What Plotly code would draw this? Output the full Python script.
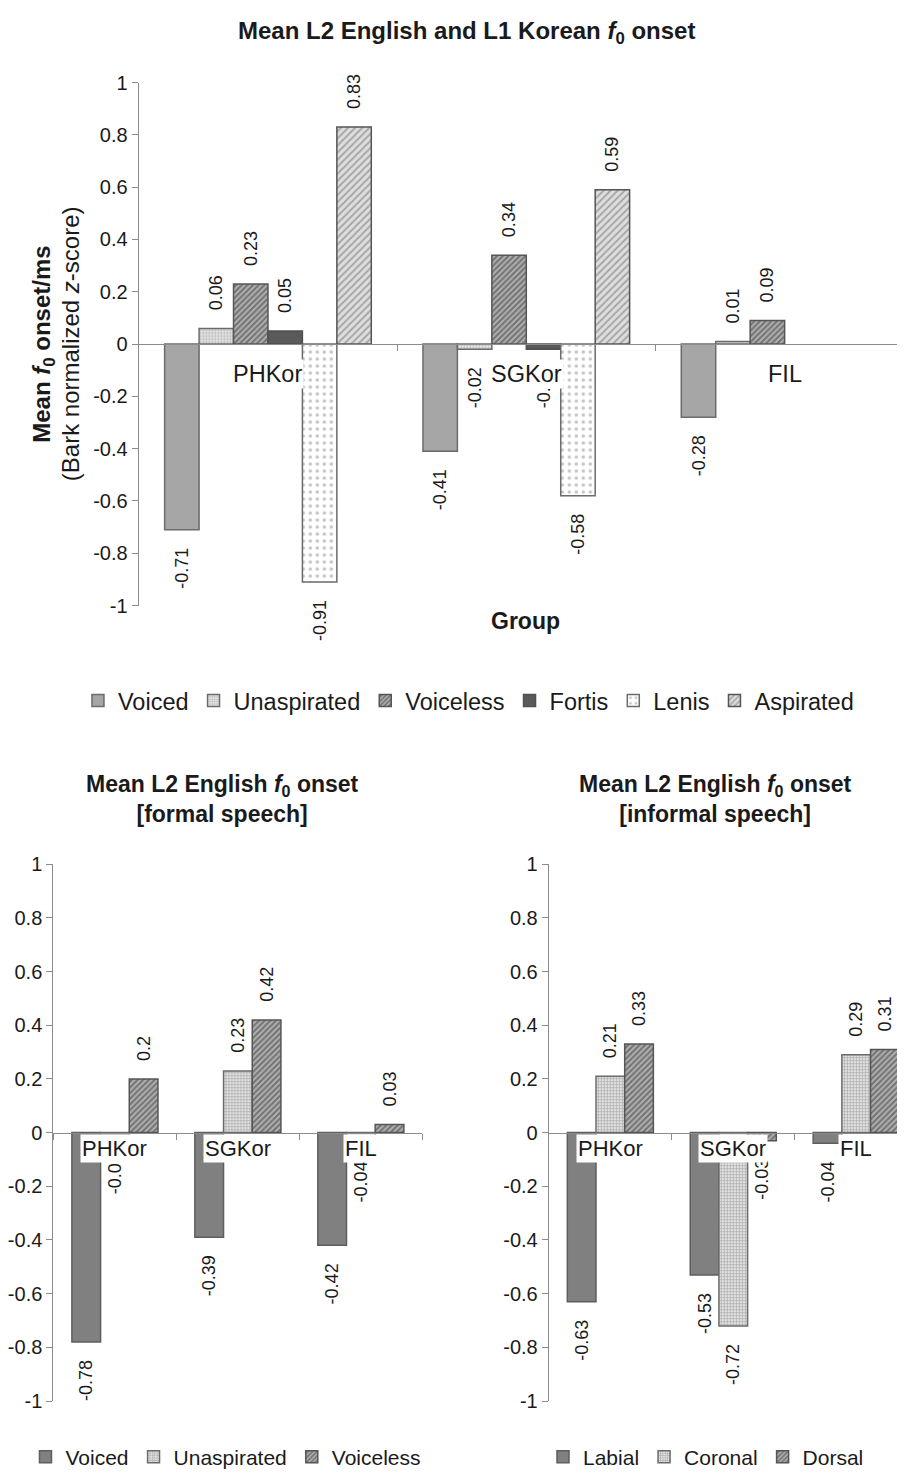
import plotly.graph_objects as go

# ---------------- data ----------------
groups = ["PHKor", "SGKor", "FIL"]

top_series = ["Voiced", "Unaspirated", "Voiceless", "Fortis", "Lenis", "Aspirated"]
top_voiced = [-0.71, -0.41, -0.28]
top_unaspirated = [0.06, -0.02, 0.01]
top_voiceless = [0.23, 0.34, 0.09]
top_fortis = [0.05, -0.02, None]
top_lenis = [-0.91, -0.58, None]
top_aspirated = [0.83, 0.59, None]

formal_series = ["Voiced", "Unaspirated", "Voiceless"]
formal_voiced = [-0.78, -0.39, -0.42]
formal_unaspirated = [-0.01, 0.23, -0.04]
formal_voiceless = [0.2, 0.42, 0.03]

informal_series = ["Labial", "Coronal", "Dorsal"]
informal_labial = [-0.63, -0.53, -0.04]
informal_coronal = [0.21, -0.72, 0.29]
informal_dorsal = [0.33, -0.03, 0.31]

y_tickvals = [1, 0.8, 0.6, 0.4, 0.2, 0, -0.2, -0.4, -0.6, -0.8, -1]
y_ticktext = ["1", "0.8", "0.6", "0.4", "0.2", "0", "-0.2", "-0.4", "-0.6", "-0.8", "-1"]

# ---------------- styles ----------------
FONT = "Liberation Sans, Arial, Helvetica, sans-serif"
TXT = "#1a1a1a"
AX = "#8c8c8c"
EDGE = "#6b6b6b"
PAD = "\u00a0" * 3  # gap between bar end and its rotated value label

styles = {
    "top_Voiced": dict(color="#a6a6a6", line=dict(color=EDGE, width=1.5)),
    "top_Unaspirated": dict(color="#ffffff", line=dict(color=EDGE, width=1.5),
                            pattern=dict(shape="+", fgcolor="#8a8a8a", bgcolor="#e6e6e6", size=3, solidity=0.4)),
    "top_Voiceless": dict(color="#ffffff", line=dict(color="#555555", width=1.5),
                          pattern=dict(shape="/", fgcolor="#333333", bgcolor="#b0b0b0", size=4, solidity=0.5)),
    "top_Fortis": dict(color="#5a5a5a", line=dict(color="#505050", width=1.5)),
    "top_Lenis": dict(color="#ffffff", line=dict(color=EDGE, width=1.5),
                      pattern=dict(shape=".", fgcolor="#8a8a8a", bgcolor="#ffffff", size=7, solidity=0.2)),
    "top_Aspirated": dict(color="#ffffff", line=dict(color="#555555", width=1.5),
                          pattern=dict(shape="/", fgcolor="#6e6e6e", bgcolor="#dedede", size=5, solidity=0.4)),
    "bot_0": dict(color="#808080", line=dict(color="#5e5e5e", width=1.5)),
    "bot_1": dict(color="#ffffff", line=dict(color=EDGE, width=1.5),
                  pattern=dict(shape="+", fgcolor="#7e7e7e", bgcolor="#e2e2e2", size=3, solidity=0.45)),
    "bot_2": dict(color="#ffffff", line=dict(color="#555555", width=1.5),
                  pattern=dict(shape="/", fgcolor="#333333", bgcolor="#b0b0b0", size=4, solidity=0.5)),
}

# page offset of the figure (default body margin of the html page)
OX, OY = 8, 8
W, H = 905 - OX, 1481 - OY


def fx(px):
    return (px - OX) / W


def fy(px):
    return 1 - (px - OY) / H


def present(vals):
    xs = [g for g, v in zip(groups, vals) if v is not None]
    ys = [v for v in vals if v is not None]
    return xs, ys


def label(v):
    s = f"{v:g}"
    return PAD + s if v >= 0 else s + PAD


fig = go.Figure()


def add_bars(series, values, xr, yr, leg, total, style_keys):
    bw = total / len(series)
    for i, (name, vals) in enumerate(zip(series, values)):
        xs, ys = present(vals)
        fig.add_trace(go.Bar(
            x=xs, y=ys, name=name, xaxis=xr, yaxis=yr, legend=leg,
            width=bw, offset=-total / 2 + i * bw,
            marker=styles[style_keys[i]],
            text=[label(v) for v in ys], textposition="outside", textangle=-90,
            textfont=dict(size=18, color=TXT, family=FONT), cliponaxis=False,
            constraintext="none",
        ))


add_bars(top_series, [top_voiced, top_unaspirated, top_voiceless, top_fortis, top_lenis, top_aspirated],
         "x", "y", "legend", 0.8, ["top_" + s for s in top_series])
add_bars(formal_series, [formal_voiced, formal_unaspirated, formal_voiceless],
         "x2", "y2", "legend2", 0.7, ["bot_0", "bot_1", "bot_2"])
add_bars(informal_series, [informal_labial, informal_coronal, informal_dorsal],
         "x3", "y3", "legend3", 0.7, ["bot_0", "bot_1", "bot_2"])

# domains (page pixel positions converted to paper fractions)
top_dom_y = [fy(603.5), fy(72.5)]
bot_dom_y = [fy(1411), fy(866)]
top_dom_x = [fx(124), 1.0]
bl_dom_x = [fx(37), fx(413)]
br_dom_x = [fx(542), 1.0]


def xaxis(domain, rng, ydom):
    return dict(
        domain=domain, range=rng, type="category", anchor="free",
        position=(ydom[0] + ydom[1]) / 2,
        showline=True, linecolor=AX, linewidth=1.3,
        ticks="outside", tickson="boundaries", ticklen=6, tickcolor=AX, tickwidth=1.3,
        showticklabels=False, showgrid=False, zeroline=False, fixedrange=True,
    )


def yaxis(domain, anchor):
    return dict(
        domain=domain, range=[-1, 1], anchor=anchor,
        tickvals=y_tickvals, ticktext=y_ticktext,
        showline=True, linecolor=AX, linewidth=1.3,
        ticks="outside", ticklen=6, tickcolor=AX, tickwidth=1.3,
        tickfont=dict(size=20, color=TXT, family=FONT),
        showgrid=False, zeroline=False, fixedrange=True,
    )


def legend(xl, yc, size):
    return dict(orientation="h", x=fx(xl), xanchor="left", y=fy(yc), yanchor="middle",
                font=dict(size=size, color=TXT, family=FONT), itemwidth=30,
                bgcolor="rgba(0,0,0,0)")


fig.update_layout(
    width=W, height=H,
    margin=dict(l=0, r=0, t=0, b=0),
    paper_bgcolor="white", plot_bgcolor="white",
    font=dict(family=FONT, color=TXT),
    barmode="group",
    xaxis=xaxis(top_dom_x, [-0.5, 2.466], top_dom_y),
    yaxis=yaxis(top_dom_y, "x"),
    xaxis2=xaxis(bl_dom_x, [-0.5, 2.5], bot_dom_y),
    yaxis2=yaxis(bot_dom_y, "x2"),
    xaxis3=xaxis(br_dom_x, [-0.5, 2.397], bot_dom_y),
    yaxis3=yaxis(bot_dom_y, "x3"),
    legend=legend(62, 700, 23.5),
    legend2=legend(8.5, 1468, 21),
    legend3=legend(536, 1468, 21),
    showlegend=True,
)


def text_at(text, x, y, size, angle=0):
    return dict(text=text, x=fx(x), y=fy(y), xref="paper", yref="paper", showarrow=False,
                textangle=angle, font=dict(size=size, color=TXT, family=FONT),
                xanchor="center", yanchor="middle")


ann = [
    text_at("<b>Mean L2 English and L1 Korean <i>f</i><sub>0</sub> onset</b>", 458, 22, 24),
    text_at("<b>Mean L2 English <i>f</i><sub>0</sub> onset<br>[formal speech]</b>", 209, 800, 23),
    text_at("<b>Mean L2 English <i>f</i><sub>0</sub> onset<br>[informal speech]</b>", 712, 800, 23),
    text_at("<b>Mean <i>f</i><sub>0</sub> onset/ms</b>", 26, 338, 24, -90),
    text_at("(Bark normalized <i>z</i>-score)", 54, 338, 24, -90),
    text_at("<b>Group</b>", 518, 619, 23),
]
# category labels at the zero line
for xr, yr, shift, size in (("x", "y", -15, 23.5), ("x2", "y2", -1, 22), ("x3", "y3", -1, 22)):
    for g in groups:
        ann.append(dict(text=g, x=g, y=0, xref=xr, yref=yr, showarrow=False,
                        yanchor="top", yshift=shift, bgcolor="white", borderpad=1,
                        font=dict(size=size, color=TXT, family=FONT)))
fig.update_layout(annotations=ann)

fig.write_html("out.html")
